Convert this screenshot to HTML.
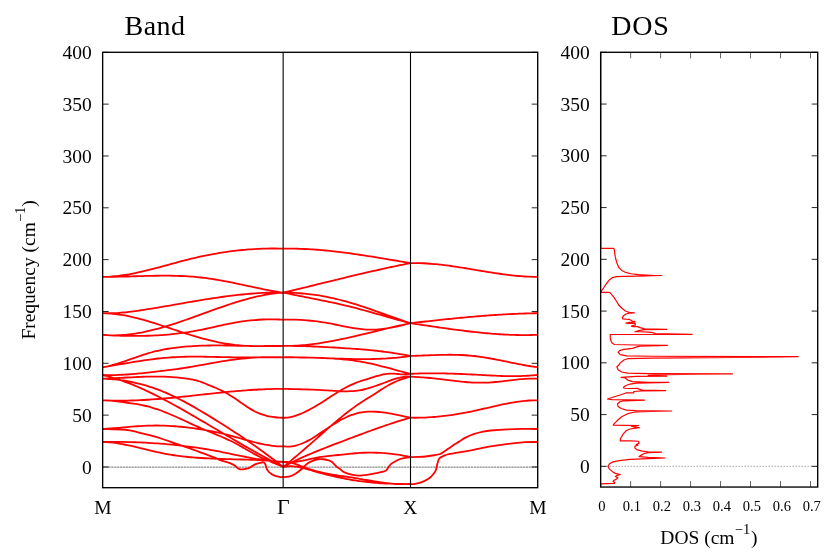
<!DOCTYPE html>
<html><head><meta charset="utf-8"><title>Band / DOS</title>
<style>
html,body{margin:0;padding:0;background:#fff;}
svg{display:block;font-family:"Liberation Serif",serif;fill:#000;}
text{filter:grayscale(1);}
</style></head>
<body>
<svg width="830" height="554" viewBox="0 0 830 554">
<rect width="830" height="554" fill="#fff"/>
<!-- zero lines -->
<path d="M102.65 467.15H537.7" stroke="#cdcdcd" stroke-width="0.85" fill="none"/>
<path d="M102.65 467.15H537.7" stroke="#6e6e6e" stroke-width="0.85" stroke-dasharray="2 0.9" fill="none"/>
<path d="M600.65 466.35H817.7" stroke="#707070" stroke-width="0.9" stroke-dasharray="1 2" fill="none"/>
<!-- bands -->
<path d="M102.65 276.90C103.33 276.88 105.38 276.86 106.75 276.80C108.12 276.75 109.49 276.67 110.85 276.58C112.22 276.48 113.59 276.36 114.96 276.23C116.32 276.10 117.69 275.94 119.06 275.78C120.43 275.61 121.79 275.42 123.16 275.22C124.53 275.02 125.90 274.80 127.26 274.57C128.63 274.34 130.00 274.09 131.37 273.83C132.73 273.57 134.10 273.30 135.47 273.02C136.84 272.74 138.20 272.44 139.57 272.14C140.94 271.83 142.31 271.52 143.67 271.20C145.04 270.87 146.41 270.54 147.78 270.20C149.14 269.87 150.51 269.52 151.88 269.17C153.24 268.82 154.61 268.46 155.98 268.10C157.35 267.74 158.71 267.38 160.08 267.01C161.45 266.64 162.82 266.27 164.18 265.90C165.55 265.52 166.92 265.15 168.29 264.78C169.65 264.40 171.02 264.03 172.39 263.66C173.76 263.28 175.12 262.91 176.49 262.54C177.86 262.18 179.23 261.81 180.59 261.45C181.96 261.09 183.33 260.73 184.70 260.38C186.06 260.03 187.43 259.68 188.80 259.34C190.17 259.00 191.53 258.67 192.90 258.35C194.27 258.02 195.63 257.71 197.00 257.40C198.37 257.09 199.74 256.78 201.10 256.49C202.47 256.19 203.84 255.91 205.21 255.63C206.57 255.35 207.94 255.08 209.31 254.81C210.68 254.55 212.04 254.29 213.41 254.04C214.78 253.79 216.15 253.55 217.51 253.32C218.88 253.09 220.25 252.86 221.62 252.65C222.98 252.43 224.35 252.22 225.72 252.02C227.09 251.82 228.45 251.63 229.82 251.44C231.19 251.26 232.56 251.08 233.92 250.91C235.29 250.75 236.66 250.59 238.02 250.44C239.39 250.29 240.76 250.14 242.13 250.01C243.49 249.88 244.86 249.75 246.23 249.64C247.60 249.52 248.96 249.41 250.33 249.31C251.70 249.22 253.07 249.13 254.43 249.05C255.80 248.96 257.17 248.89 258.54 248.83C259.90 248.77 261.27 248.71 262.64 248.67C264.01 248.62 265.37 248.59 266.74 248.56C268.11 248.54 269.48 248.52 270.84 248.51C272.21 248.50 273.58 248.51 274.95 248.52C276.31 248.53 277.68 248.55 279.05 248.58C280.42 248.61 282.47 248.68 283.15 248.70M102.65 276.90C103.33 276.90 105.38 276.90 106.75 276.89C108.12 276.88 109.49 276.87 110.85 276.85C112.22 276.83 113.59 276.81 114.96 276.79C116.32 276.76 117.69 276.74 119.06 276.71C120.43 276.68 121.79 276.64 123.16 276.61C124.53 276.57 125.90 276.53 127.26 276.50C128.63 276.46 130.00 276.42 131.37 276.38C132.73 276.34 134.10 276.30 135.47 276.26C136.84 276.22 138.20 276.18 139.57 276.14C140.94 276.10 142.31 276.06 143.67 276.03C145.04 275.99 146.41 275.96 147.78 275.92C149.14 275.89 150.51 275.86 151.88 275.84C153.24 275.81 154.61 275.79 155.98 275.77C157.35 275.75 158.71 275.73 160.08 275.72C161.45 275.71 162.82 275.70 164.18 275.70C165.55 275.70 166.92 275.71 168.29 275.72C169.65 275.73 171.02 275.74 172.39 275.77C173.76 275.79 175.12 275.82 176.49 275.86C177.86 275.89 179.23 275.94 180.59 275.99C181.96 276.04 183.33 276.10 184.70 276.17C186.06 276.24 187.43 276.32 188.80 276.41C190.17 276.50 191.53 276.60 192.90 276.71C194.27 276.82 195.63 276.93 197.00 277.06C198.37 277.19 199.74 277.34 201.10 277.49C202.47 277.64 203.84 277.81 205.21 277.98C206.57 278.16 207.94 278.35 209.31 278.55C210.68 278.74 212.04 278.95 213.41 279.17C214.78 279.39 216.15 279.62 217.51 279.85C218.88 280.08 220.25 280.33 221.62 280.58C222.98 280.83 224.35 281.09 225.72 281.35C227.09 281.61 228.45 281.88 229.82 282.15C231.19 282.43 232.56 282.71 233.92 282.99C235.29 283.27 236.66 283.56 238.02 283.85C239.39 284.14 240.76 284.43 242.13 284.72C243.49 285.01 244.86 285.31 246.23 285.61C247.60 285.90 248.96 286.20 250.33 286.49C251.70 286.79 253.07 287.08 254.43 287.37C255.80 287.67 257.17 287.96 258.54 288.24C259.90 288.53 261.27 288.82 262.64 289.09C264.01 289.37 265.37 289.64 266.74 289.91C268.11 290.17 269.48 290.43 270.84 290.68C272.21 290.92 273.58 291.16 274.95 291.39C276.31 291.61 277.68 291.83 279.05 292.03C280.42 292.24 282.47 292.51 283.15 292.60M102.65 313.20C103.33 313.21 105.38 313.26 106.75 313.27C108.12 313.27 109.49 313.25 110.85 313.22C112.22 313.18 113.59 313.13 114.96 313.07C116.32 313.00 117.69 312.92 119.06 312.82C120.43 312.72 121.79 312.61 123.16 312.49C124.53 312.36 125.90 312.23 127.26 312.08C128.63 311.93 130.00 311.77 131.37 311.61C132.73 311.44 134.10 311.26 135.47 311.07C136.84 310.89 138.20 310.69 139.57 310.49C140.94 310.29 142.31 310.09 143.67 309.87C145.04 309.66 146.41 309.45 147.78 309.23C149.14 309.01 150.51 308.78 151.88 308.56C153.24 308.33 154.61 308.10 155.98 307.87C157.35 307.64 158.71 307.41 160.08 307.18C161.45 306.95 162.82 306.71 164.18 306.48C165.55 306.24 166.92 306.00 168.29 305.77C169.65 305.53 171.02 305.29 172.39 305.05C173.76 304.81 175.12 304.58 176.49 304.34C177.86 304.10 179.23 303.86 180.59 303.62C181.96 303.38 183.33 303.15 184.70 302.91C186.06 302.67 187.43 302.44 188.80 302.20C190.17 301.97 191.53 301.73 192.90 301.50C194.27 301.27 195.63 301.04 197.00 300.81C198.37 300.58 199.74 300.36 201.10 300.13C202.47 299.91 203.84 299.69 205.21 299.47C206.57 299.25 207.94 299.04 209.31 298.82C210.68 298.61 212.04 298.40 213.41 298.19C214.78 297.99 216.15 297.78 217.51 297.59C218.88 297.39 220.25 297.19 221.62 297.00C222.98 296.81 224.35 296.62 225.72 296.44C227.09 296.26 228.45 296.08 229.82 295.91C231.19 295.74 232.56 295.57 233.92 295.41C235.29 295.25 236.66 295.09 238.02 294.94C239.39 294.79 240.76 294.65 242.13 294.51C243.49 294.37 244.86 294.24 246.23 294.11C247.60 293.99 248.96 293.87 250.33 293.76C251.70 293.65 253.07 293.54 254.43 293.44C255.80 293.35 257.17 293.26 258.54 293.17C259.90 293.09 261.27 293.01 262.64 292.95C264.01 292.88 265.37 292.82 266.74 292.77C268.11 292.72 269.48 292.68 270.84 292.65C272.21 292.61 273.58 292.59 274.95 292.58C276.31 292.56 277.68 292.55 279.05 292.56C280.42 292.56 282.47 292.59 283.15 292.60M102.65 313.20C103.33 313.22 105.38 313.25 106.75 313.32C108.12 313.38 109.49 313.47 110.85 313.58C112.22 313.70 113.59 313.83 114.96 313.99C116.32 314.15 117.69 314.33 119.06 314.53C120.43 314.73 121.79 314.95 123.16 315.19C124.53 315.43 125.90 315.69 127.26 315.96C128.63 316.24 130.00 316.53 131.37 316.83C132.73 317.14 134.10 317.47 135.47 317.80C136.84 318.14 138.20 318.49 139.57 318.85C140.94 319.21 142.31 319.59 143.67 319.98C145.04 320.36 146.41 320.76 147.78 321.16C149.14 321.57 150.51 321.98 151.88 322.40C153.24 322.83 154.61 323.26 155.98 323.69C157.35 324.12 158.71 324.57 160.08 325.01C161.45 325.46 162.82 325.91 164.18 326.36C165.55 326.81 166.92 327.26 168.29 327.72C169.65 328.17 171.02 328.63 172.39 329.09C173.76 329.54 175.12 330.00 176.49 330.45C177.86 330.91 179.23 331.36 180.59 331.81C181.96 332.25 183.33 332.70 184.70 333.13C186.06 333.57 187.43 334.01 188.80 334.43C190.17 334.86 191.53 335.28 192.90 335.69C194.27 336.10 195.63 336.50 197.00 336.90C198.37 337.29 199.74 337.68 201.10 338.05C202.47 338.43 203.84 338.79 205.21 339.15C206.57 339.50 207.94 339.85 209.31 340.18C210.68 340.52 212.04 340.84 213.41 341.15C214.78 341.46 216.15 341.76 217.51 342.04C218.88 342.33 220.25 342.60 221.62 342.85C222.98 343.11 224.35 343.36 225.72 343.58C227.09 343.81 228.45 344.03 229.82 344.22C231.19 344.42 232.56 344.60 233.92 344.77C235.29 344.94 236.66 345.08 238.02 345.22C239.39 345.35 240.76 345.46 242.13 345.56C243.49 345.65 244.86 345.73 246.23 345.80C247.60 345.86 248.96 345.91 250.33 345.95C251.70 345.99 253.07 346.01 254.43 346.03C255.80 346.05 257.17 346.06 258.54 346.06C259.90 346.06 261.27 346.05 262.64 346.04C264.01 346.03 265.37 346.02 266.74 346.00C268.11 345.99 269.48 345.97 270.84 345.95C272.21 345.94 273.58 345.92 274.95 345.91C276.31 345.90 277.68 345.89 279.05 345.89C280.42 345.88 282.47 345.90 283.15 345.90M102.65 334.80C103.33 334.85 105.38 335.04 106.75 335.12C108.12 335.20 109.49 335.25 110.85 335.29C112.22 335.32 113.59 335.33 114.96 335.31C116.32 335.30 117.69 335.26 119.06 335.20C120.43 335.15 121.79 335.07 123.16 334.97C124.53 334.87 125.90 334.75 127.26 334.61C128.63 334.47 130.00 334.31 131.37 334.13C132.73 333.95 134.10 333.76 135.47 333.54C136.84 333.33 138.20 333.10 139.57 332.85C140.94 332.61 142.31 332.34 143.67 332.06C145.04 331.79 146.41 331.49 147.78 331.19C149.14 330.88 150.51 330.56 151.88 330.22C153.24 329.89 154.61 329.54 155.98 329.18C157.35 328.82 158.71 328.45 160.08 328.07C161.45 327.68 162.82 327.29 164.18 326.89C165.55 326.48 166.92 326.07 168.29 325.65C169.65 325.23 171.02 324.80 172.39 324.36C173.76 323.92 175.12 323.47 176.49 323.02C177.86 322.57 179.23 322.10 180.59 321.64C181.96 321.17 183.33 320.70 184.70 320.23C186.06 319.75 187.43 319.27 188.80 318.79C190.17 318.30 191.53 317.81 192.90 317.32C194.27 316.84 195.63 316.34 197.00 315.85C198.37 315.35 199.74 314.86 201.10 314.36C202.47 313.87 203.84 313.37 205.21 312.88C206.57 312.38 207.94 311.88 209.31 311.39C210.68 310.90 212.04 310.41 213.41 309.92C214.78 309.43 216.15 308.94 217.51 308.46C218.88 307.98 220.25 307.50 221.62 307.03C222.98 306.56 224.35 306.09 225.72 305.62C227.09 305.16 228.45 304.71 229.82 304.26C231.19 303.81 232.56 303.36 233.92 302.93C235.29 302.50 236.66 302.07 238.02 301.65C239.39 301.23 240.76 300.83 242.13 300.43C243.49 300.03 244.86 299.64 246.23 299.27C247.60 298.89 248.96 298.52 250.33 298.17C251.70 297.82 253.07 297.48 254.43 297.15C255.80 296.82 257.17 296.51 258.54 296.21C259.90 295.91 261.27 295.62 262.64 295.36C264.01 295.09 265.37 294.83 266.74 294.59C268.11 294.36 269.48 294.13 270.84 293.93C272.21 293.73 273.58 293.54 274.95 293.37C276.31 293.21 277.68 293.06 279.05 292.93C280.42 292.80 282.47 292.65 283.15 292.60M102.65 334.80C103.33 334.84 105.38 334.98 106.75 335.06C108.12 335.15 109.49 335.22 110.85 335.29C112.22 335.37 113.59 335.43 114.96 335.49C116.32 335.56 117.69 335.61 119.06 335.66C120.43 335.71 121.79 335.75 123.16 335.79C124.53 335.83 125.90 335.86 127.26 335.89C128.63 335.91 130.00 335.93 131.37 335.94C132.73 335.96 134.10 335.96 135.47 335.96C136.84 335.96 138.20 335.95 139.57 335.94C140.94 335.92 142.31 335.90 143.67 335.87C145.04 335.85 146.41 335.81 147.78 335.77C149.14 335.72 150.51 335.67 151.88 335.61C153.24 335.56 154.61 335.49 155.98 335.42C157.35 335.34 158.71 335.26 160.08 335.17C161.45 335.08 162.82 334.99 164.18 334.88C165.55 334.77 166.92 334.66 168.29 334.54C169.65 334.41 171.02 334.28 172.39 334.14C173.76 334.00 175.12 333.86 176.49 333.70C177.86 333.54 179.23 333.37 180.59 333.20C181.96 333.02 183.33 332.84 184.70 332.64C186.06 332.45 187.43 332.25 188.80 332.03C190.17 331.82 191.53 331.60 192.90 331.36C194.27 331.13 195.63 330.89 197.00 330.63C198.37 330.38 199.74 330.12 201.10 329.85C202.47 329.57 203.84 329.29 205.21 329.00C206.57 328.71 207.94 328.40 209.31 328.10C210.68 327.79 212.04 327.48 213.41 327.17C214.78 326.86 216.15 326.54 217.51 326.23C218.88 325.92 220.25 325.61 221.62 325.31C222.98 325.01 224.35 324.70 225.72 324.42C227.09 324.13 228.45 323.84 229.82 323.57C231.19 323.31 232.56 323.05 233.92 322.80C235.29 322.55 236.66 322.31 238.02 322.09C239.39 321.87 240.76 321.66 242.13 321.46C243.49 321.26 244.86 321.07 246.23 320.90C247.60 320.73 248.96 320.57 250.33 320.42C251.70 320.28 253.07 320.15 254.43 320.03C255.80 319.91 257.17 319.81 258.54 319.73C259.90 319.64 261.27 319.57 262.64 319.51C264.01 319.45 265.37 319.40 266.74 319.37C268.11 319.34 269.48 319.33 270.84 319.33C272.21 319.33 273.58 319.34 274.95 319.37C276.31 319.39 277.68 319.44 279.05 319.49C280.42 319.55 282.47 319.67 283.15 319.70M102.65 367.30C103.33 367.17 105.38 366.80 106.75 366.51C108.12 366.21 109.49 365.88 110.85 365.53C112.22 365.18 113.59 364.80 114.96 364.41C116.32 364.01 117.69 363.59 119.06 363.16C120.43 362.72 121.79 362.27 123.16 361.81C124.53 361.35 125.90 360.88 127.26 360.40C128.63 359.93 130.00 359.44 131.37 358.96C132.73 358.48 134.10 357.99 135.47 357.51C136.84 357.03 138.20 356.55 139.57 356.09C140.94 355.62 142.31 355.16 143.67 354.72C145.04 354.27 146.41 353.84 147.78 353.43C149.14 353.02 150.51 352.62 151.88 352.25C153.24 351.88 154.61 351.54 155.98 351.21C157.35 350.88 158.71 350.57 160.08 350.28C161.45 349.99 162.82 349.72 164.18 349.46C165.55 349.20 166.92 348.96 168.29 348.74C169.65 348.51 171.02 348.30 172.39 348.10C173.76 347.91 175.12 347.72 176.49 347.55C177.86 347.38 179.23 347.22 180.59 347.08C181.96 346.93 183.33 346.80 184.70 346.67C186.06 346.55 187.43 346.44 188.80 346.34C190.17 346.23 191.53 346.14 192.90 346.06C194.27 345.98 195.63 345.90 197.00 345.84C198.37 345.78 199.74 345.72 201.10 345.67C202.47 345.63 203.84 345.59 205.21 345.55C206.57 345.52 207.94 345.50 209.31 345.48C210.68 345.46 212.04 345.44 213.41 345.44C214.78 345.43 216.15 345.43 217.51 345.43C218.88 345.43 220.25 345.44 221.62 345.45C222.98 345.46 224.35 345.48 225.72 345.50C227.09 345.52 228.45 345.54 229.82 345.56C231.19 345.58 232.56 345.61 233.92 345.64C235.29 345.67 236.66 345.70 238.02 345.73C239.39 345.75 240.76 345.79 242.13 345.82C243.49 345.85 244.86 345.88 246.23 345.91C247.60 345.94 248.96 345.96 250.33 345.99C251.70 346.02 253.07 346.04 254.43 346.07C255.80 346.09 257.17 346.11 258.54 346.13C259.90 346.14 261.27 346.16 262.64 346.17C264.01 346.17 265.37 346.18 266.74 346.18C268.11 346.18 269.48 346.18 270.84 346.17C272.21 346.16 273.58 346.14 274.95 346.12C276.31 346.10 277.68 346.07 279.05 346.03C280.42 345.99 282.47 345.92 283.15 345.90M102.65 367.30C103.33 367.18 105.38 366.84 106.75 366.61C108.12 366.37 109.49 366.14 110.85 365.90C112.22 365.66 113.59 365.42 114.96 365.19C116.32 364.95 117.69 364.71 119.06 364.47C120.43 364.23 121.79 363.99 123.16 363.76C124.53 363.52 125.90 363.28 127.26 363.05C128.63 362.82 130.00 362.59 131.37 362.36C132.73 362.13 134.10 361.91 135.47 361.69C136.84 361.47 138.20 361.25 139.57 361.04C140.94 360.82 142.31 360.61 143.67 360.41C145.04 360.21 146.41 360.01 147.78 359.82C149.14 359.63 150.51 359.45 151.88 359.27C153.24 359.10 154.61 358.93 155.98 358.76C157.35 358.60 158.71 358.45 160.08 358.30C161.45 358.16 162.82 358.02 164.18 357.90C165.55 357.77 166.92 357.66 168.29 357.55C169.65 357.45 171.02 357.35 172.39 357.27C173.76 357.18 175.12 357.11 176.49 357.04C177.86 356.98 179.23 356.93 180.59 356.88C181.96 356.83 183.33 356.80 184.70 356.76C186.06 356.73 187.43 356.71 188.80 356.70C190.17 356.68 191.53 356.67 192.90 356.67C194.27 356.66 195.63 356.66 197.00 356.67C198.37 356.68 199.74 356.69 201.10 356.70C202.47 356.72 203.84 356.73 205.21 356.76C206.57 356.78 207.94 356.80 209.31 356.83C210.68 356.85 212.04 356.88 213.41 356.91C214.78 356.94 216.15 356.97 217.51 357.00C218.88 357.03 220.25 357.06 221.62 357.08C222.98 357.11 224.35 357.14 225.72 357.17C227.09 357.19 228.45 357.21 229.82 357.24C231.19 357.26 232.56 357.27 233.92 357.29C235.29 357.31 236.66 357.32 238.02 357.33C239.39 357.35 240.76 357.36 242.13 357.36C243.49 357.37 244.86 357.38 246.23 357.39C247.60 357.39 248.96 357.39 250.33 357.40C251.70 357.40 253.07 357.40 254.43 357.40C255.80 357.40 257.17 357.40 258.54 357.40C259.90 357.39 261.27 357.39 262.64 357.39C264.01 357.38 265.37 357.38 266.74 357.37C268.11 357.37 269.48 357.36 270.84 357.36C272.21 357.35 273.58 357.34 274.95 357.34C276.31 357.33 277.68 357.32 279.05 357.32C280.42 357.31 282.47 357.30 283.15 357.30M102.65 375.00C103.33 375.02 105.38 375.08 106.75 375.10C108.12 375.12 109.49 375.12 110.85 375.11C112.22 375.11 113.59 375.09 114.96 375.05C116.32 375.02 117.69 374.98 119.06 374.93C120.43 374.87 121.79 374.81 123.16 374.73C124.53 374.66 125.90 374.58 127.26 374.49C128.63 374.40 130.00 374.30 131.37 374.19C132.73 374.08 134.10 373.97 135.47 373.85C136.84 373.73 138.20 373.60 139.57 373.47C140.94 373.34 142.31 373.20 143.67 373.06C145.04 372.92 146.41 372.77 147.78 372.62C149.14 372.47 150.51 372.32 151.88 372.17C153.24 372.01 154.61 371.86 155.98 371.70C157.35 371.54 158.71 371.37 160.08 371.21C161.45 371.04 162.82 370.88 164.18 370.71C165.55 370.54 166.92 370.36 168.29 370.19C169.65 370.01 171.02 369.83 172.39 369.65C173.76 369.46 175.12 369.28 176.49 369.09C177.86 368.90 179.23 368.70 180.59 368.50C181.96 368.30 183.33 368.10 184.70 367.89C186.06 367.68 187.43 367.46 188.80 367.24C190.17 367.01 191.53 366.77 192.90 366.53C194.27 366.29 195.63 366.04 197.00 365.79C198.37 365.54 199.74 365.28 201.10 365.03C202.47 364.77 203.84 364.51 205.21 364.26C206.57 364.00 207.94 363.75 209.31 363.50C210.68 363.25 212.04 363.01 213.41 362.77C214.78 362.54 216.15 362.31 217.51 362.08C218.88 361.85 220.25 361.63 221.62 361.42C222.98 361.20 224.35 361.00 225.72 360.80C227.09 360.59 228.45 360.40 229.82 360.21C231.19 360.02 232.56 359.84 233.92 359.67C235.29 359.50 236.66 359.33 238.02 359.17C239.39 359.01 240.76 358.86 242.13 358.72C243.49 358.58 244.86 358.45 246.23 358.32C247.60 358.19 248.96 358.08 250.33 357.97C251.70 357.86 253.07 357.76 254.43 357.67C255.80 357.58 257.17 357.50 258.54 357.43C259.90 357.36 261.27 357.30 262.64 357.25C264.01 357.20 265.37 357.16 266.74 357.13C268.11 357.10 269.48 357.08 270.84 357.07C272.21 357.06 273.58 357.06 274.95 357.08C276.31 357.09 277.68 357.12 279.05 357.15C280.42 357.19 282.47 357.28 283.15 357.30M102.65 378.60C103.33 378.58 105.38 378.53 106.75 378.48C108.12 378.43 109.49 378.38 110.85 378.33C112.22 378.27 113.59 378.21 114.96 378.15C116.32 378.08 117.69 378.01 119.06 377.95C120.43 377.88 121.79 377.81 123.16 377.74C124.53 377.66 125.90 377.59 127.26 377.52C128.63 377.45 130.00 377.38 131.37 377.31C132.73 377.24 134.10 377.17 135.47 377.11C136.84 377.05 138.20 376.98 139.57 376.93C140.94 376.87 142.31 376.82 143.67 376.77C145.04 376.73 146.41 376.69 147.78 376.65C149.14 376.62 150.51 376.59 151.88 376.57C153.24 376.55 154.61 376.54 155.98 376.54C157.35 376.54 158.71 376.55 160.08 376.57C161.45 376.58 162.82 376.61 164.18 376.65C165.55 376.70 166.92 376.75 168.29 376.81C169.65 376.88 171.02 376.96 172.39 377.05C173.76 377.15 175.12 377.25 176.49 377.38C177.86 377.50 179.23 377.64 180.59 377.80C181.96 377.96 183.33 378.13 184.70 378.32C186.06 378.51 187.43 378.72 188.80 378.95C190.17 379.18 191.53 379.42 192.90 379.71C194.27 380.00 195.63 380.30 197.00 380.67C198.37 381.04 199.74 381.44 201.10 381.91C202.47 382.37 203.84 382.92 205.21 383.48C206.57 384.03 207.94 384.65 209.31 385.23C210.68 385.81 212.04 386.37 213.41 386.95C214.78 387.53 216.15 388.10 217.51 388.71C218.88 389.32 220.25 389.94 221.62 390.62C222.98 391.30 224.35 392.03 225.72 392.79C227.09 393.56 228.45 394.37 229.82 395.20C231.19 396.04 232.56 396.91 233.92 397.80C235.29 398.69 236.66 399.61 238.02 400.54C239.39 401.47 240.76 402.44 242.13 403.38C243.49 404.33 244.86 405.30 246.23 406.22C247.60 407.13 248.96 408.05 250.33 408.89C251.70 409.72 253.07 410.51 254.43 411.22C255.80 411.93 257.17 412.56 258.54 413.13C259.90 413.70 261.27 414.20 262.64 414.64C264.01 415.09 265.37 415.47 266.74 415.80C268.11 416.14 269.48 416.41 270.84 416.65C272.21 416.89 273.58 417.08 274.95 417.24C276.31 417.40 277.68 417.52 279.05 417.61C280.42 417.70 282.47 417.77 283.15 417.80M102.65 400.30C103.33 400.33 105.38 400.43 106.75 400.48C108.12 400.53 109.49 400.57 110.85 400.60C112.22 400.64 113.59 400.66 114.96 400.68C116.32 400.70 117.69 400.70 119.06 400.70C120.43 400.71 121.79 400.70 123.16 400.69C124.53 400.67 125.90 400.65 127.26 400.62C128.63 400.60 130.00 400.56 131.37 400.52C132.73 400.48 134.10 400.43 135.47 400.38C136.84 400.32 138.20 400.26 139.57 400.20C140.94 400.13 142.31 400.06 143.67 399.98C145.04 399.91 146.41 399.83 147.78 399.74C149.14 399.65 150.51 399.56 151.88 399.46C153.24 399.37 154.61 399.27 155.98 399.16C157.35 399.06 158.71 398.95 160.08 398.83C161.45 398.72 162.82 398.60 164.18 398.48C165.55 398.36 166.92 398.24 168.29 398.11C169.65 397.99 171.02 397.86 172.39 397.73C173.76 397.59 175.12 397.46 176.49 397.32C177.86 397.19 179.23 397.05 180.59 396.90C181.96 396.76 183.33 396.62 184.70 396.48C186.06 396.33 187.43 396.19 188.80 396.04C190.17 395.89 191.53 395.74 192.90 395.60C194.27 395.45 195.63 395.30 197.00 395.15C198.37 395.00 199.74 394.85 201.10 394.70C202.47 394.55 203.84 394.40 205.21 394.25C206.57 394.10 207.94 393.95 209.31 393.80C210.68 393.66 212.04 393.51 213.41 393.36C214.78 393.22 216.15 393.07 217.51 392.93C218.88 392.79 220.25 392.64 221.62 392.51C222.98 392.37 224.35 392.23 225.72 392.09C227.09 391.96 228.45 391.83 229.82 391.70C231.19 391.57 232.56 391.44 233.92 391.32C235.29 391.19 236.66 391.07 238.02 390.96C239.39 390.84 240.76 390.72 242.13 390.62C243.49 390.51 244.86 390.40 246.23 390.30C247.60 390.20 248.96 390.10 250.33 390.01C251.70 389.92 253.07 389.83 254.43 389.75C255.80 389.66 257.17 389.59 258.54 389.52C259.90 389.44 261.27 389.38 262.64 389.32C264.01 389.26 265.37 389.20 266.74 389.15C268.11 389.11 269.48 389.06 270.84 389.03C272.21 388.99 273.58 388.96 274.95 388.94C276.31 388.92 277.68 388.91 279.05 388.90C280.42 388.89 282.47 388.90 283.15 388.90M102.65 400.30C103.33 400.32 105.38 400.36 106.75 400.43C108.12 400.49 109.49 400.59 110.85 400.71C112.22 400.82 113.59 400.97 114.96 401.12C116.32 401.27 117.69 401.44 119.06 401.61C120.43 401.79 121.79 401.98 123.16 402.16C124.53 402.35 125.90 402.54 127.26 402.74C128.63 402.93 130.00 403.13 131.37 403.33C132.73 403.53 134.10 403.74 135.47 403.97C136.84 404.19 138.20 404.43 139.57 404.68C140.94 404.94 142.31 405.20 143.67 405.50C145.04 405.79 146.41 406.10 147.78 406.45C149.14 406.79 150.51 407.16 151.88 407.56C153.24 407.96 154.61 408.38 155.98 408.84C157.35 409.29 158.71 409.77 160.08 410.26C161.45 410.76 162.82 411.28 164.18 411.82C165.55 412.35 166.92 412.91 168.29 413.48C169.65 414.05 171.02 414.64 172.39 415.23C173.76 415.82 175.12 416.43 176.49 417.05C177.86 417.66 179.23 418.29 180.59 418.91C181.96 419.54 183.33 420.17 184.70 420.80C186.06 421.44 187.43 422.07 188.80 422.70C190.17 423.33 191.53 423.97 192.90 424.59C194.27 425.21 195.63 425.83 197.00 426.44C198.37 427.05 199.74 427.65 201.10 428.24C202.47 428.83 203.84 429.40 205.21 429.97C206.57 430.54 207.94 431.10 209.31 431.67C210.68 432.23 212.04 432.79 213.41 433.35C214.78 433.91 216.15 434.47 217.51 435.05C218.88 435.62 220.25 436.20 221.62 436.79C222.98 437.39 224.35 437.99 225.72 438.61C227.09 439.23 228.45 439.87 229.82 440.53C231.19 441.19 232.56 441.86 233.92 442.57C235.29 443.28 236.66 444.02 238.02 444.77C239.39 445.53 240.76 446.32 242.13 447.10C243.49 447.89 244.86 448.69 246.23 449.48C247.60 450.27 248.96 451.07 250.33 451.83C251.70 452.60 253.07 453.36 254.43 454.08C255.80 454.81 257.17 455.52 258.54 456.20C259.90 456.88 261.27 457.54 262.64 458.19C264.01 458.83 265.37 459.44 266.74 460.04C268.11 460.64 269.48 461.22 270.84 461.79C272.21 462.37 273.58 462.92 274.95 463.49C276.31 464.06 277.68 464.62 279.05 465.20C280.42 465.77 282.47 466.67 283.15 466.97M102.65 378.60C103.33 378.63 105.38 378.71 106.75 378.79C108.12 378.87 109.49 378.97 110.85 379.08C112.22 379.19 113.59 379.31 114.96 379.46C116.32 379.60 117.69 379.76 119.06 379.94C120.43 380.11 121.79 380.31 123.16 380.51C124.53 380.72 125.90 380.95 127.26 381.19C128.63 381.44 130.00 381.70 131.37 381.97C132.73 382.25 134.10 382.55 135.47 382.86C136.84 383.17 138.20 383.50 139.57 383.85C140.94 384.20 142.31 384.56 143.67 384.95C145.04 385.33 146.41 385.73 147.78 386.15C149.14 386.57 150.51 387.01 151.88 387.47C153.24 387.92 154.61 388.40 155.98 388.89C157.35 389.39 158.71 389.90 160.08 390.43C161.45 390.97 162.82 391.52 164.18 392.09C165.55 392.66 166.92 393.25 168.29 393.86C169.65 394.46 171.02 395.09 172.39 395.73C173.76 396.37 175.12 397.03 176.49 397.70C177.86 398.37 179.23 399.06 180.59 399.76C181.96 400.46 183.33 401.18 184.70 401.90C186.06 402.63 187.43 403.37 188.80 404.13C190.17 404.88 191.53 405.64 192.90 406.41C194.27 407.19 195.63 407.97 197.00 408.77C198.37 409.56 199.74 410.36 201.10 411.17C202.47 411.98 203.84 412.80 205.21 413.62C206.57 414.44 207.94 415.28 209.31 416.11C210.68 416.95 212.04 417.79 213.41 418.63C214.78 419.48 216.15 420.33 217.51 421.18C218.88 422.04 220.25 422.89 221.62 423.76C222.98 424.62 224.35 425.49 225.72 426.36C227.09 427.24 228.45 428.11 229.82 429.00C231.19 429.88 232.56 430.77 233.92 431.67C235.29 432.56 236.66 433.46 238.02 434.37C239.39 435.28 240.76 436.19 242.13 437.11C243.49 438.03 244.86 438.95 246.23 439.89C247.60 440.82 248.96 441.76 250.33 442.71C251.70 443.65 253.07 444.61 254.43 445.57C255.80 446.53 257.17 447.50 258.54 448.48C259.90 449.45 261.27 450.44 262.64 451.43C264.01 452.42 265.37 453.42 266.74 454.43C268.11 455.44 269.48 456.46 270.84 457.48C272.21 458.51 273.58 459.55 274.95 460.59C276.31 461.63 277.68 462.69 279.05 463.75C280.42 464.81 282.47 466.43 283.15 466.97M102.65 375.00C103.33 375.17 105.38 375.65 106.75 376.00C108.12 376.36 109.49 376.73 110.85 377.12C112.22 377.51 113.59 377.91 114.96 378.34C116.32 378.76 117.69 379.20 119.06 379.66C120.43 380.11 121.79 380.59 123.16 381.07C124.53 381.56 125.90 382.07 127.26 382.58C128.63 383.10 130.00 383.63 131.37 384.18C132.73 384.73 134.10 385.29 135.47 385.86C136.84 386.44 138.20 387.02 139.57 387.62C140.94 388.22 142.31 388.83 143.67 389.46C145.04 390.08 146.41 390.72 147.78 391.36C149.14 392.01 150.51 392.66 151.88 393.33C153.24 394.00 154.61 394.67 155.98 395.36C157.35 396.05 158.71 396.74 160.08 397.45C161.45 398.15 162.82 398.87 164.18 399.59C165.55 400.31 166.92 401.04 168.29 401.77C169.65 402.51 171.02 403.25 172.39 404.00C173.76 404.75 175.12 405.51 176.49 406.27C177.86 407.03 179.23 407.80 180.59 408.57C181.96 409.34 183.33 410.12 184.70 410.90C186.06 411.68 187.43 412.47 188.80 413.26C190.17 414.05 191.53 414.84 192.90 415.63C194.27 416.43 195.63 417.23 197.00 418.03C198.37 418.83 199.74 419.63 201.10 420.43C202.47 421.23 203.84 422.04 205.21 422.84C206.57 423.65 207.94 424.45 209.31 425.26C210.68 426.06 212.04 426.87 213.41 427.68C214.78 428.48 216.15 429.29 217.51 430.10C218.88 430.90 220.25 431.71 221.62 432.51C222.98 433.32 224.35 434.12 225.72 434.93C227.09 435.73 228.45 436.53 229.82 437.33C231.19 438.13 232.56 438.93 233.92 439.73C235.29 440.53 236.66 441.33 238.02 442.12C239.39 442.91 240.76 443.70 242.13 444.49C243.49 445.28 244.86 446.07 246.23 446.85C247.60 447.63 248.96 448.41 250.33 449.19C251.70 449.96 253.07 450.74 254.43 451.51C255.80 452.27 257.17 453.04 258.54 453.80C259.90 454.56 261.27 455.32 262.64 456.07C264.01 456.82 265.37 457.57 266.74 458.31C268.11 459.06 269.48 459.80 270.84 460.53C272.21 461.26 273.58 461.99 274.95 462.71C276.31 463.43 277.68 464.15 279.05 464.86C280.42 465.57 282.47 466.61 283.15 466.97M102.65 429.00C103.33 428.96 105.38 428.85 106.75 428.76C108.12 428.67 109.49 428.57 110.85 428.47C112.22 428.37 113.59 428.25 114.96 428.14C116.32 428.03 117.69 427.91 119.06 427.79C120.43 427.67 121.79 427.55 123.16 427.43C124.53 427.31 125.90 427.19 127.26 427.07C128.63 426.95 130.00 426.83 131.37 426.72C132.73 426.60 134.10 426.49 135.47 426.39C136.84 426.29 138.20 426.19 139.57 426.10C140.94 426.01 142.31 425.93 143.67 425.86C145.04 425.78 146.41 425.72 147.78 425.67C149.14 425.62 150.51 425.58 151.88 425.56C153.24 425.53 154.61 425.52 155.98 425.52C157.35 425.52 158.71 425.54 160.08 425.56C161.45 425.59 162.82 425.62 164.18 425.67C165.55 425.72 166.92 425.78 168.29 425.85C169.65 425.92 171.02 426.01 172.39 426.10C173.76 426.19 175.12 426.29 176.49 426.40C177.86 426.51 179.23 426.64 180.59 426.77C181.96 426.90 183.33 427.04 184.70 427.18C186.06 427.33 187.43 427.49 188.80 427.65C190.17 427.82 191.53 427.99 192.90 428.17C194.27 428.35 195.63 428.54 197.00 428.74C198.37 428.94 199.74 429.14 201.10 429.36C202.47 429.57 203.84 429.80 205.21 430.03C206.57 430.27 207.94 430.51 209.31 430.77C210.68 431.02 212.04 431.29 213.41 431.56C214.78 431.84 216.15 432.12 217.51 432.42C218.88 432.72 220.25 433.03 221.62 433.35C222.98 433.68 224.35 434.01 225.72 434.36C227.09 434.70 228.45 435.07 229.82 435.43C231.19 435.80 232.56 436.18 233.92 436.56C235.29 436.95 236.66 437.34 238.02 437.73C239.39 438.11 240.76 438.51 242.13 438.90C243.49 439.28 244.86 439.67 246.23 440.06C247.60 440.44 248.96 440.82 250.33 441.18C251.70 441.55 253.07 441.91 254.43 442.25C255.80 442.60 257.17 442.93 258.54 443.25C259.90 443.56 261.27 443.86 262.64 444.14C264.01 444.42 265.37 444.68 266.74 444.92C268.11 445.15 269.48 445.37 270.84 445.56C272.21 445.74 273.58 445.90 274.95 446.03C276.31 446.16 277.68 446.26 279.05 446.32C280.42 446.38 282.47 446.39 283.15 446.40M102.65 429.00C106.42 429.13 119.41 429.22 125.28 429.77C131.16 430.32 133.71 431.35 137.93 432.29C142.14 433.24 146.35 434.30 150.57 435.46C154.78 436.61 159.00 437.88 163.21 439.25C167.43 440.62 171.51 442.20 175.85 443.67C180.19 445.14 184.78 446.51 189.25 448.08C193.71 449.66 198.30 451.48 202.64 453.12C206.98 454.76 212.12 456.66 215.28 457.93C218.45 459.19 219.15 459.84 221.61 460.71C224.06 461.58 227.88 462.37 230.00 463.14C232.12 463.90 233.13 464.52 234.34 465.31C235.54 466.09 236.27 467.18 237.23 467.84C238.19 468.50 238.92 469.07 240.12 469.28C241.33 469.50 243.02 469.32 244.46 469.14C245.91 468.96 247.59 468.66 248.80 468.20C250.00 467.74 250.73 466.99 251.69 466.39C252.66 465.79 253.38 465.13 254.58 464.58C255.79 464.04 257.72 463.48 258.92 463.14C260.13 462.80 260.97 462.68 261.81 462.56C262.66 462.44 263.38 462.08 263.98 462.42C264.59 462.75 265.07 463.80 265.43 464.58C265.79 465.37 265.79 466.15 266.15 467.11C266.51 468.08 267.12 469.53 267.60 470.37C268.08 471.21 268.32 471.51 269.05 472.18C269.77 472.84 270.73 473.68 271.94 474.35C273.14 475.01 274.83 475.70 276.28 476.15C277.72 476.61 279.47 476.92 280.61 477.09C281.76 477.27 282.73 477.18 283.15 477.20M102.65 442.00C103.33 441.99 105.38 441.96 106.75 441.94C108.12 441.93 109.49 441.92 110.85 441.91C112.22 441.90 113.59 441.90 114.96 441.90C116.32 441.90 117.69 441.91 119.06 441.92C120.43 441.93 121.79 441.94 123.16 441.96C124.53 441.98 125.90 442.00 127.26 442.03C128.63 442.06 130.00 442.09 131.37 442.13C132.73 442.16 134.10 442.20 135.47 442.25C136.84 442.30 138.20 442.35 139.57 442.40C140.94 442.46 142.31 442.52 143.67 442.58C145.04 442.65 146.41 442.72 147.78 442.79C149.14 442.86 150.51 442.94 151.88 443.03C153.24 443.11 154.61 443.20 155.98 443.30C157.35 443.39 158.71 443.49 160.08 443.59C161.45 443.70 162.82 443.81 164.18 443.92C165.55 444.04 166.92 444.16 168.29 444.28C169.65 444.41 171.02 444.54 172.39 444.67C173.76 444.81 175.12 444.95 176.49 445.10C177.86 445.24 179.23 445.40 180.59 445.55C181.96 445.71 183.33 445.87 184.70 446.04C186.06 446.21 187.43 446.39 188.80 446.57C190.17 446.75 191.53 446.93 192.90 447.12C194.27 447.31 195.63 447.51 197.00 447.71C198.37 447.92 199.74 448.13 201.10 448.34C202.47 448.56 203.84 448.78 205.21 449.00C206.57 449.23 207.94 449.46 209.31 449.70C210.68 449.94 212.04 450.18 213.41 450.43C214.78 450.69 216.15 450.94 217.51 451.21C218.88 451.47 220.25 451.74 221.62 452.01C222.98 452.28 224.35 452.56 225.72 452.84C227.09 453.11 228.45 453.40 229.82 453.68C231.19 453.96 232.56 454.24 233.92 454.52C235.29 454.81 236.66 455.09 238.02 455.37C239.39 455.65 240.76 455.93 242.13 456.20C243.49 456.48 244.86 456.75 246.23 457.02C247.60 457.28 248.96 457.55 250.33 457.80C251.70 458.06 253.07 458.31 254.43 458.55C255.80 458.79 257.17 459.03 258.54 459.25C259.90 459.48 261.27 459.69 262.64 459.90C264.01 460.10 265.37 460.30 266.74 460.48C268.11 460.66 269.48 460.83 270.84 460.99C272.21 461.15 273.58 461.29 274.95 461.42C276.31 461.55 277.68 461.66 279.05 461.76C280.42 461.86 282.47 461.96 283.15 462.00M102.65 442.00C103.33 442.02 105.38 442.07 106.75 442.15C108.12 442.23 109.49 442.34 110.85 442.47C112.22 442.60 113.59 442.76 114.96 442.94C116.32 443.11 117.69 443.32 119.06 443.54C120.43 443.75 121.79 444.00 123.16 444.25C124.53 444.50 125.90 444.77 127.26 445.06C128.63 445.34 130.00 445.64 131.37 445.94C132.73 446.25 134.10 446.56 135.47 446.88C136.84 447.21 138.20 447.54 139.57 447.87C140.94 448.20 142.31 448.54 143.67 448.87C145.04 449.21 146.41 449.55 147.78 449.88C149.14 450.21 150.51 450.55 151.88 450.87C153.24 451.20 154.61 451.52 155.98 451.83C157.35 452.14 158.71 452.45 160.08 452.74C161.45 453.03 162.82 453.31 164.18 453.58C165.55 453.84 166.92 454.09 168.29 454.33C169.65 454.57 171.02 454.80 172.39 455.01C173.76 455.23 175.12 455.43 176.49 455.62C177.86 455.81 179.23 455.99 180.59 456.16C181.96 456.33 183.33 456.48 184.70 456.63C186.06 456.78 187.43 456.92 188.80 457.05C190.17 457.18 191.53 457.30 192.90 457.42C194.27 457.53 195.63 457.64 197.00 457.74C198.37 457.84 199.74 457.93 201.10 458.01C202.47 458.10 203.84 458.18 205.21 458.25C206.57 458.33 207.94 458.40 209.31 458.46C210.68 458.53 212.04 458.59 213.41 458.64C214.78 458.70 216.15 458.75 217.51 458.80C218.88 458.85 220.25 458.89 221.62 458.94C222.98 458.98 224.35 459.02 225.72 459.06C227.09 459.10 228.45 459.14 229.82 459.18C231.19 459.22 232.56 459.26 233.92 459.29C235.29 459.33 236.66 459.37 238.02 459.41C239.39 459.44 240.76 459.48 242.13 459.52C243.49 459.56 244.86 459.61 246.23 459.65C247.60 459.70 248.96 459.74 250.33 459.79C251.70 459.84 253.07 459.90 254.43 459.95C255.80 460.01 257.17 460.07 258.54 460.14C259.90 460.20 261.27 460.27 262.64 460.35C264.01 460.43 265.37 460.51 266.74 460.60C268.11 460.68 269.48 460.78 270.84 460.88C272.21 460.98 273.58 461.09 274.95 461.20C276.31 461.32 277.68 461.44 279.05 461.58C280.42 461.71 282.47 461.93 283.15 462.00M283.15 248.70C283.86 248.69 285.98 248.65 287.39 248.64C288.81 248.64 290.22 248.64 291.64 248.65C293.06 248.66 294.47 248.68 295.88 248.71C297.30 248.74 298.71 248.77 300.13 248.82C301.55 248.86 302.96 248.92 304.38 248.98C305.79 249.04 307.20 249.12 308.62 249.19C310.04 249.27 311.45 249.36 312.87 249.45C314.28 249.55 315.69 249.65 317.11 249.76C318.53 249.87 319.94 249.98 321.36 250.10C322.77 250.23 324.18 250.35 325.60 250.49C327.01 250.62 328.43 250.77 329.84 250.91C331.26 251.06 332.67 251.21 334.09 251.37C335.50 251.53 336.92 251.69 338.33 251.86C339.75 252.03 341.16 252.21 342.58 252.39C344.00 252.56 345.41 252.75 346.82 252.94C348.24 253.13 349.65 253.32 351.07 253.51C352.49 253.71 353.90 253.91 355.31 254.12C356.73 254.32 358.14 254.53 359.56 254.74C360.98 254.95 362.39 255.17 363.81 255.38C365.22 255.60 366.63 255.82 368.05 256.04C369.47 256.27 370.88 256.49 372.30 256.72C373.71 256.95 375.12 257.18 376.54 257.41C377.95 257.64 379.37 257.87 380.78 258.11C382.20 258.34 383.61 258.58 385.03 258.81C386.44 259.05 387.86 259.29 389.27 259.53C390.69 259.76 392.10 260.00 393.52 260.24C394.94 260.48 396.35 260.72 397.76 260.96C399.18 261.20 400.59 261.44 402.01 261.68C403.43 261.92 404.84 262.15 406.25 262.39C407.67 262.63 409.79 262.98 410.50 263.10M283.15 292.60C283.86 292.43 285.98 291.94 287.39 291.61C288.81 291.27 290.22 290.94 291.64 290.60C293.06 290.27 294.47 289.93 295.88 289.59C297.30 289.26 298.71 288.92 300.13 288.58C301.55 288.24 302.96 287.90 304.38 287.55C305.79 287.21 307.20 286.87 308.62 286.53C310.04 286.18 311.45 285.84 312.87 285.50C314.28 285.15 315.69 284.81 317.11 284.46C318.53 284.12 319.94 283.77 321.36 283.43C322.77 283.08 324.18 282.73 325.60 282.39C327.01 282.04 328.43 281.70 329.84 281.35C331.26 281.01 332.67 280.66 334.09 280.32C335.50 279.97 336.92 279.63 338.33 279.29C339.75 278.94 341.16 278.60 342.58 278.26C344.00 277.92 345.41 277.57 346.82 277.23C348.24 276.89 349.65 276.55 351.07 276.21C352.49 275.88 353.90 275.54 355.31 275.20C356.73 274.87 358.14 274.53 359.56 274.20C360.98 273.86 362.39 273.53 363.81 273.20C365.22 272.87 366.63 272.54 368.05 272.22C369.47 271.89 370.88 271.56 372.30 271.24C373.71 270.92 375.12 270.59 376.54 270.27C377.95 269.96 379.37 269.64 380.78 269.32C382.20 269.01 383.61 268.70 385.03 268.38C386.44 268.07 387.86 267.77 389.27 267.46C390.69 267.16 392.10 266.85 393.52 266.55C394.94 266.25 396.35 265.96 397.76 265.66C399.18 265.37 400.59 265.08 402.01 264.79C403.43 264.50 404.84 264.22 406.25 263.93C407.67 263.65 409.79 263.24 410.50 263.10M283.15 292.60C283.86 292.60 285.98 292.60 287.39 292.63C288.81 292.65 290.22 292.69 291.64 292.75C293.06 292.80 294.47 292.87 295.88 292.95C297.30 293.03 298.71 293.13 300.13 293.24C301.55 293.35 302.96 293.47 304.38 293.61C305.79 293.75 307.20 293.90 308.62 294.07C310.04 294.24 311.45 294.42 312.87 294.61C314.28 294.80 315.69 295.01 317.11 295.23C318.53 295.45 319.94 295.68 321.36 295.93C322.77 296.18 324.18 296.43 325.60 296.71C327.01 296.98 328.43 297.26 329.84 297.56C331.26 297.86 332.67 298.17 334.09 298.49C335.50 298.82 336.92 299.15 338.33 299.50C339.75 299.84 341.16 300.20 342.58 300.58C344.00 300.95 345.41 301.33 346.82 301.73C348.24 302.12 349.65 302.53 351.07 302.94C352.49 303.36 353.90 303.79 355.31 304.23C356.73 304.66 358.14 305.11 359.56 305.56C360.98 306.01 362.39 306.47 363.81 306.94C365.22 307.41 366.63 307.89 368.05 308.36C369.47 308.84 370.88 309.33 372.30 309.82C373.71 310.31 375.12 310.80 376.54 311.30C377.95 311.80 379.37 312.30 380.78 312.80C382.20 313.30 383.61 313.81 385.03 314.31C386.44 314.81 387.86 315.32 389.27 315.82C390.69 316.33 392.10 316.83 393.52 317.34C394.94 317.84 396.35 318.34 397.76 318.84C399.18 319.33 400.59 319.83 402.01 320.32C403.43 320.81 404.84 321.29 406.25 321.78C407.67 322.26 409.79 322.96 410.50 323.20M283.15 292.60C283.86 292.75 285.98 293.20 287.39 293.49C288.81 293.79 290.22 294.08 291.64 294.37C293.06 294.66 294.47 294.94 295.88 295.23C297.30 295.51 298.71 295.79 300.13 296.07C301.55 296.35 302.96 296.63 304.38 296.91C305.79 297.19 307.20 297.46 308.62 297.74C310.04 298.02 311.45 298.30 312.87 298.58C314.28 298.86 315.69 299.14 317.11 299.42C318.53 299.70 319.94 299.99 321.36 300.27C322.77 300.56 324.18 300.85 325.60 301.14C327.01 301.43 328.43 301.73 329.84 302.03C331.26 302.33 332.67 302.63 334.09 302.94C335.50 303.25 336.92 303.56 338.33 303.88C339.75 304.20 341.16 304.52 342.58 304.85C344.00 305.18 345.41 305.52 346.82 305.86C348.24 306.20 349.65 306.55 351.07 306.91C352.49 307.26 353.90 307.63 355.31 307.99C356.73 308.36 358.14 308.73 359.56 309.11C360.98 309.48 362.39 309.86 363.81 310.25C365.22 310.63 366.63 311.02 368.05 311.41C369.47 311.80 370.88 312.19 372.30 312.59C373.71 312.98 375.12 313.38 376.54 313.78C377.95 314.18 379.37 314.58 380.78 314.98C382.20 315.38 383.61 315.78 385.03 316.18C386.44 316.58 387.86 316.98 389.27 317.38C390.69 317.78 392.10 318.18 393.52 318.57C394.94 318.97 396.35 319.37 397.76 319.76C399.18 320.15 400.59 320.54 402.01 320.93C403.43 321.31 404.84 321.70 406.25 322.08C407.67 322.45 409.79 323.01 410.50 323.20M283.15 319.70C283.86 319.68 285.98 319.62 287.39 319.60C288.81 319.59 290.22 319.59 291.64 319.60C293.06 319.62 294.47 319.65 295.88 319.69C297.30 319.73 298.71 319.79 300.13 319.87C301.55 319.94 302.96 320.03 304.38 320.13C305.79 320.23 307.20 320.35 308.62 320.48C310.04 320.61 311.45 320.76 312.87 320.92C314.28 321.08 315.69 321.25 317.11 321.43C318.53 321.62 319.94 321.82 321.36 322.03C322.77 322.25 324.18 322.47 325.60 322.71C327.01 322.95 328.43 323.20 329.84 323.47C331.26 323.73 332.67 324.01 334.09 324.29C335.50 324.57 336.92 324.86 338.33 325.15C339.75 325.44 341.16 325.73 342.58 326.02C344.00 326.30 345.41 326.59 346.82 326.86C348.24 327.13 349.65 327.40 351.07 327.65C352.49 327.90 353.90 328.14 355.31 328.35C356.73 328.57 358.14 328.77 359.56 328.94C360.98 329.11 362.39 329.27 363.81 329.38C365.22 329.50 366.63 329.60 368.05 329.65C369.47 329.70 370.88 329.72 372.30 329.71C373.71 329.69 375.12 329.63 376.54 329.54C377.95 329.46 379.37 329.33 380.78 329.18C382.20 329.03 383.61 328.85 385.03 328.65C386.44 328.45 387.86 328.21 389.27 327.97C390.69 327.72 392.10 327.45 393.52 327.16C394.94 326.88 396.35 326.57 397.76 326.26C399.18 325.94 400.59 325.61 402.01 325.28C403.43 324.94 404.84 324.60 406.25 324.25C407.67 323.90 409.79 323.38 410.50 323.20M283.15 345.90C283.86 345.90 285.98 345.92 287.39 345.91C288.81 345.90 290.22 345.87 291.64 345.82C293.06 345.78 294.47 345.72 295.88 345.64C297.30 345.57 298.71 345.48 300.13 345.38C301.55 345.27 302.96 345.16 304.38 345.03C305.79 344.90 307.20 344.76 308.62 344.60C310.04 344.45 311.45 344.28 312.87 344.10C314.28 343.93 315.69 343.74 317.11 343.54C318.53 343.34 319.94 343.13 321.36 342.91C322.77 342.69 324.18 342.46 325.60 342.22C327.01 341.98 328.43 341.73 329.84 341.48C331.26 341.22 332.67 340.95 334.09 340.68C335.50 340.41 336.92 340.13 338.33 339.84C339.75 339.56 341.16 339.26 342.58 338.97C344.00 338.67 345.41 338.36 346.82 338.05C348.24 337.74 349.65 337.43 351.07 337.11C352.49 336.79 353.90 336.46 355.31 336.13C356.73 335.81 358.14 335.47 359.56 335.14C360.98 334.81 362.39 334.47 363.81 334.13C365.22 333.79 366.63 333.45 368.05 333.11C369.47 332.76 370.88 332.42 372.30 332.07C373.71 331.73 375.12 331.38 376.54 331.04C377.95 330.69 379.37 330.35 380.78 330.01C382.20 329.66 383.61 329.32 385.03 328.98C386.44 328.64 387.86 328.30 389.27 327.96C390.69 327.63 392.10 327.29 393.52 326.96C394.94 326.63 396.35 326.30 397.76 325.98C399.18 325.66 400.59 325.34 402.01 325.02C403.43 324.71 404.84 324.40 406.25 324.09C407.67 323.79 409.79 323.35 410.50 323.20M283.15 345.90C283.86 345.90 285.98 345.90 287.39 345.90C288.81 345.91 290.22 345.92 291.64 345.94C293.06 345.95 294.47 345.97 295.88 346.00C297.30 346.02 298.71 346.05 300.13 346.08C301.55 346.12 302.96 346.15 304.38 346.19C305.79 346.23 307.20 346.28 308.62 346.33C310.04 346.38 311.45 346.43 312.87 346.48C314.28 346.54 315.69 346.60 317.11 346.66C318.53 346.72 319.94 346.78 321.36 346.85C322.77 346.92 324.18 346.99 325.60 347.06C327.01 347.13 328.43 347.21 329.84 347.28C331.26 347.36 332.67 347.44 334.09 347.52C335.50 347.60 336.92 347.68 338.33 347.77C339.75 347.85 341.16 347.94 342.58 348.03C344.00 348.11 345.41 348.20 346.82 348.29C348.24 348.38 349.65 348.48 351.07 348.57C352.49 348.66 353.90 348.76 355.31 348.86C356.73 348.96 358.14 349.07 359.56 349.18C360.98 349.28 362.39 349.40 363.81 349.52C365.22 349.63 366.63 349.76 368.05 349.89C369.47 350.02 370.88 350.15 372.30 350.30C373.71 350.44 375.12 350.59 376.54 350.75C377.95 350.91 379.37 351.08 380.78 351.26C382.20 351.43 383.61 351.62 385.03 351.81C386.44 352.00 387.86 352.20 389.27 352.40C390.69 352.61 392.10 352.82 393.52 353.04C394.94 353.26 396.35 353.48 397.76 353.71C399.18 353.94 400.59 354.17 402.01 354.41C403.43 354.65 404.84 354.90 406.25 355.14C407.67 355.39 409.79 355.77 410.50 355.90M283.15 357.30C283.86 357.29 285.98 357.27 287.39 357.26C288.81 357.26 290.22 357.26 291.64 357.26C293.06 357.27 294.47 357.28 295.88 357.30C297.30 357.32 298.71 357.34 300.13 357.37C301.55 357.39 302.96 357.42 304.38 357.46C305.79 357.49 307.20 357.53 308.62 357.57C310.04 357.61 311.45 357.65 312.87 357.70C314.28 357.75 315.69 357.79 317.11 357.84C318.53 357.89 319.94 357.94 321.36 358.00C322.77 358.05 324.18 358.10 325.60 358.15C327.01 358.21 328.43 358.26 329.84 358.31C331.26 358.36 332.67 358.42 334.09 358.47C335.50 358.52 336.92 358.57 338.33 358.61C339.75 358.66 341.16 358.71 342.58 358.75C344.00 358.79 345.41 358.83 346.82 358.87C348.24 358.90 349.65 358.94 351.07 358.97C352.49 359.00 353.90 359.02 355.31 359.04C356.73 359.06 358.14 359.08 359.56 359.09C360.98 359.10 362.39 359.10 363.81 359.10C365.22 359.10 366.63 359.09 368.05 359.08C369.47 359.06 370.88 359.04 372.30 359.01C373.71 358.99 375.12 358.95 376.54 358.90C377.95 358.86 379.37 358.81 380.78 358.75C382.20 358.68 383.61 358.61 385.03 358.53C386.44 358.45 387.86 358.36 389.27 358.26C390.69 358.16 392.10 358.05 393.52 357.93C394.94 357.81 396.35 357.68 397.76 357.53C399.18 357.39 400.59 357.23 402.01 357.06C403.43 356.90 404.84 356.72 406.25 356.52C407.67 356.33 409.79 356.00 410.50 355.90M283.15 357.30C283.86 357.31 285.98 357.34 287.39 357.35C288.81 357.37 290.22 357.38 291.64 357.40C293.06 357.41 294.47 357.43 295.88 357.44C297.30 357.45 298.71 357.47 300.13 357.48C301.55 357.50 302.96 357.51 304.38 357.53C305.79 357.55 307.20 357.57 308.62 357.60C310.04 357.62 311.45 357.65 312.87 357.68C314.28 357.71 315.69 357.74 317.11 357.78C318.53 357.83 319.94 357.87 321.36 357.92C322.77 357.97 324.18 358.03 325.60 358.10C327.01 358.16 328.43 358.23 329.84 358.31C331.26 358.39 332.67 358.48 334.09 358.57C335.50 358.67 336.92 358.78 338.33 358.89C339.75 359.01 341.16 359.13 342.58 359.27C344.00 359.40 345.41 359.55 346.82 359.71C348.24 359.87 349.65 360.04 351.07 360.22C352.49 360.40 353.90 360.60 355.31 360.81C356.73 361.01 358.14 361.24 359.56 361.47C360.98 361.71 362.39 361.96 363.81 362.23C365.22 362.50 366.63 362.78 368.05 363.07C369.47 363.37 370.88 363.67 372.30 363.99C373.71 364.31 375.12 364.64 376.54 364.97C377.95 365.31 379.37 365.66 380.78 366.02C382.20 366.37 383.61 366.74 385.03 367.11C386.44 367.48 387.86 367.86 389.27 368.24C390.69 368.62 392.10 369.01 393.52 369.40C394.94 369.79 396.35 370.18 397.76 370.57C399.18 370.96 400.59 371.35 402.01 371.73C403.43 372.11 404.84 372.48 406.25 372.84C407.67 373.21 409.79 373.72 410.50 373.90M283.15 388.90C283.86 388.91 285.98 388.94 287.39 388.96C288.81 388.98 290.22 389.01 291.64 389.03C293.06 389.06 294.47 389.09 295.88 389.13C297.30 389.16 298.71 389.20 300.13 389.24C301.55 389.28 302.96 389.32 304.38 389.37C305.79 389.41 307.20 389.46 308.62 389.52C310.04 389.57 311.45 389.63 312.87 389.69C314.28 389.75 315.69 389.81 317.11 389.88C318.53 389.94 319.94 390.01 321.36 390.09C322.77 390.16 324.18 390.24 325.60 390.32C327.01 390.40 328.43 390.49 329.84 390.57C331.26 390.66 332.67 390.76 334.09 390.84C335.50 390.92 336.92 391.01 338.33 391.07C339.75 391.14 341.16 391.20 342.58 391.24C344.00 391.27 345.41 391.30 346.82 391.29C348.24 391.28 349.65 391.25 351.07 391.18C352.49 391.11 353.90 391.01 355.31 390.87C356.73 390.73 358.14 390.55 359.56 390.33C360.98 390.10 362.39 389.82 363.81 389.50C365.22 389.18 366.63 388.81 368.05 388.41C369.47 388.01 370.88 387.56 372.30 387.11C373.71 386.65 375.12 386.15 376.54 385.65C377.95 385.15 379.37 384.63 380.78 384.10C382.20 383.58 383.61 383.05 385.03 382.52C386.44 382.00 387.86 381.46 389.27 380.96C390.69 380.45 392.10 379.94 393.52 379.48C394.94 379.02 396.35 378.58 397.76 378.20C399.18 377.83 400.59 377.49 402.01 377.23C403.43 376.98 404.84 376.78 406.25 376.69C407.67 376.61 409.79 376.70 410.50 376.70M283.15 417.80C283.86 417.76 285.98 417.71 287.39 417.55C288.81 417.38 290.22 417.13 291.64 416.82C293.06 416.51 294.47 416.11 295.88 415.67C297.30 415.22 298.71 414.70 300.13 414.14C301.55 413.58 302.96 412.95 304.38 412.29C305.79 411.62 307.20 410.91 308.62 410.16C310.04 409.41 311.45 408.62 312.87 407.81C314.28 407.00 315.69 406.15 317.11 405.29C318.53 404.42 319.94 403.53 321.36 402.64C322.77 401.74 324.18 400.83 325.60 399.92C327.01 399.01 328.43 398.09 329.84 397.18C331.26 396.27 332.67 395.35 334.09 394.46C335.50 393.57 336.92 392.68 338.33 391.82C339.75 390.96 341.16 390.12 342.58 389.31C344.00 388.51 345.41 387.72 346.82 386.98C348.24 386.24 349.65 385.53 351.07 384.88C352.49 384.22 353.90 383.62 355.31 383.05C356.73 382.48 358.14 381.97 359.56 381.48C360.98 380.98 362.39 380.53 363.81 380.08C365.22 379.63 366.63 379.20 368.05 378.77C369.47 378.33 370.88 377.88 372.30 377.45C373.71 377.02 375.12 376.57 376.54 376.16C377.95 375.76 379.37 375.36 380.78 375.02C382.20 374.69 383.61 374.38 385.03 374.16C386.44 373.94 387.86 373.77 389.27 373.70C390.69 373.62 392.10 373.66 393.52 373.71C394.94 373.76 396.35 373.90 397.76 374.01C399.18 374.13 400.59 374.30 402.01 374.38C403.43 374.46 404.84 374.55 406.25 374.47C407.67 374.39 409.79 374.00 410.50 373.90M283.15 466.97C283.86 466.40 285.98 464.73 287.39 463.59C288.81 462.44 290.22 461.28 291.64 460.11C293.06 458.94 294.47 457.76 295.88 456.56C297.30 455.36 298.71 454.15 300.13 452.94C301.55 451.72 302.96 450.50 304.38 449.27C305.79 448.03 307.20 446.79 308.62 445.55C310.04 444.31 311.45 443.06 312.87 441.81C314.28 440.57 315.69 439.31 317.11 438.06C318.53 436.81 319.94 435.56 321.36 434.32C322.77 433.07 324.18 431.82 325.60 430.58C327.01 429.34 328.43 428.11 329.84 426.88C331.26 425.65 332.67 424.43 334.09 423.22C335.50 422.01 336.92 420.81 338.33 419.63C339.75 418.45 341.16 417.27 342.58 416.12C344.00 414.97 345.41 413.84 346.82 412.73C348.24 411.62 349.65 410.53 351.07 409.47C352.49 408.41 353.90 407.37 355.31 406.36C356.73 405.36 358.14 404.38 359.56 403.43C360.98 402.49 362.39 401.59 363.81 400.69C365.22 399.80 366.63 398.95 368.05 398.06C369.47 397.18 370.88 396.29 372.30 395.39C373.71 394.48 375.12 393.55 376.54 392.63C377.95 391.71 379.37 390.78 380.78 389.88C382.20 388.97 383.61 388.07 385.03 387.21C386.44 386.36 387.86 385.53 389.27 384.76C390.69 383.99 392.10 383.27 393.52 382.61C394.94 381.94 396.35 381.33 397.76 380.75C399.18 380.18 400.59 379.66 402.01 379.17C403.43 378.68 404.84 378.24 406.25 377.83C407.67 377.42 409.79 376.89 410.50 376.70M283.15 446.40C283.86 446.43 285.98 446.61 287.39 446.59C288.81 446.58 290.22 446.48 291.64 446.29C293.06 446.11 294.47 445.85 295.88 445.51C297.30 445.17 298.71 444.75 300.13 444.26C301.55 443.76 302.96 443.18 304.38 442.54C305.79 441.90 307.20 441.16 308.62 440.39C310.04 439.62 311.45 438.77 312.87 437.90C314.28 437.04 315.69 436.11 317.11 435.19C318.53 434.26 319.94 433.30 321.36 432.36C322.77 431.41 324.18 430.45 325.60 429.51C327.01 428.56 328.43 427.62 329.84 426.70C331.26 425.78 332.67 424.86 334.09 423.98C335.50 423.10 336.92 422.24 338.33 421.42C339.75 420.60 341.16 419.81 342.58 419.06C344.00 418.32 345.41 417.61 346.82 416.97C348.24 416.32 349.65 415.72 351.07 415.19C352.49 414.65 353.90 414.18 355.31 413.77C356.73 413.37 358.14 413.03 359.56 412.74C360.98 412.45 362.39 412.23 363.81 412.05C365.22 411.87 366.63 411.76 368.05 411.68C369.47 411.60 370.88 411.57 372.30 411.58C373.71 411.59 375.12 411.65 376.54 411.73C377.95 411.82 379.37 411.94 380.78 412.09C382.20 412.24 383.61 412.43 385.03 412.63C386.44 412.83 387.86 413.07 389.27 413.31C390.69 413.56 392.10 413.83 393.52 414.11C394.94 414.38 396.35 414.68 397.76 414.97C399.18 415.27 400.59 415.58 402.01 415.89C403.43 416.19 404.84 416.50 406.25 416.81C407.67 417.11 409.79 417.55 410.50 417.70M283.15 466.97C283.86 466.58 285.98 465.41 287.39 464.66C288.81 463.91 290.22 463.18 291.64 462.47C293.06 461.76 294.47 461.06 295.88 460.38C297.30 459.71 298.71 459.04 300.13 458.39C301.55 457.74 302.96 457.11 304.38 456.48C305.79 455.86 307.20 455.25 308.62 454.64C310.04 454.04 311.45 453.44 312.87 452.86C314.28 452.27 315.69 451.69 317.11 451.11C318.53 450.54 319.94 449.97 321.36 449.41C322.77 448.84 324.18 448.29 325.60 447.73C327.01 447.18 328.43 446.63 329.84 446.08C331.26 445.54 332.67 445.00 334.09 444.45C335.50 443.91 336.92 443.38 338.33 442.84C339.75 442.30 341.16 441.77 342.58 441.23C344.00 440.70 345.41 440.16 346.82 439.63C348.24 439.09 349.65 438.56 351.07 438.03C352.49 437.49 353.90 436.96 355.31 436.43C356.73 435.90 358.14 435.37 359.56 434.84C360.98 434.31 362.39 433.78 363.81 433.26C365.22 432.74 366.63 432.21 368.05 431.70C369.47 431.18 370.88 430.66 372.30 430.15C373.71 429.64 375.12 429.13 376.54 428.63C377.95 428.13 379.37 427.63 380.78 427.13C382.20 426.64 383.61 426.15 385.03 425.67C386.44 425.18 387.86 424.71 389.27 424.23C390.69 423.76 392.10 423.30 393.52 422.84C394.94 422.38 396.35 421.93 397.76 421.48C399.18 421.04 400.59 420.60 402.01 420.17C403.43 419.74 404.84 419.32 406.25 418.91C407.67 418.50 409.79 417.90 410.50 417.70M283.15 462.00C283.86 462.07 285.98 462.37 287.39 462.42C288.81 462.48 290.22 462.42 291.64 462.33C293.06 462.23 294.47 462.04 295.88 461.84C297.30 461.64 298.71 461.37 300.13 461.11C301.55 460.84 302.96 460.55 304.38 460.26C305.79 459.97 307.20 459.66 308.62 459.37C310.04 459.07 311.45 458.77 312.87 458.48C314.28 458.20 315.69 457.91 317.11 457.65C318.53 457.39 319.94 457.14 321.36 456.91C322.77 456.69 324.18 456.49 325.60 456.31C327.01 456.13 328.43 455.98 329.84 455.83C331.26 455.68 332.67 455.55 334.09 455.42C335.50 455.28 336.92 455.16 338.33 455.01C339.75 454.87 341.16 454.72 342.58 454.56C344.00 454.41 345.41 454.24 346.82 454.08C348.24 453.92 349.65 453.76 351.07 453.63C352.49 453.49 353.90 453.36 355.31 453.25C356.73 453.14 358.14 453.04 359.56 452.96C360.98 452.88 362.39 452.82 363.81 452.77C365.22 452.72 366.63 452.69 368.05 452.67C369.47 452.65 370.88 452.65 372.30 452.66C373.71 452.67 375.12 452.70 376.54 452.75C377.95 452.79 379.37 452.86 380.78 452.93C382.20 453.01 383.61 453.11 385.03 453.22C386.44 453.33 387.86 453.46 389.27 453.60C390.69 453.75 392.10 453.91 393.52 454.09C394.94 454.27 396.35 454.47 397.76 454.68C399.18 454.90 400.59 455.13 402.01 455.38C403.43 455.63 404.84 455.90 406.25 456.19C407.67 456.47 409.79 456.95 410.50 457.10M283.15 477.20C284.43 477.01 288.65 476.69 290.84 476.05C293.02 475.41 294.45 474.52 296.25 473.34C298.06 472.17 300.23 470.27 301.67 469.01C303.12 467.74 303.84 466.75 304.92 465.76C306.00 464.76 306.91 463.86 308.17 463.05C309.44 462.24 310.88 461.51 312.51 460.88C314.13 460.25 316.12 459.53 317.92 459.26C319.73 458.98 321.54 459.08 323.34 459.26C325.15 459.44 327.31 459.89 328.76 460.34C330.20 460.79 331.11 461.33 332.01 461.96C332.91 462.60 333.27 463.23 334.18 464.13C335.08 465.03 336.46 466.58 337.43 467.38C338.40 468.19 339.03 468.26 340.00 468.97C340.97 469.69 341.80 470.87 343.25 471.68C344.69 472.49 346.50 473.21 348.66 473.84C350.83 474.47 354.07 475.20 356.24 475.47C358.40 475.74 359.85 475.56 361.65 475.47C363.46 475.38 365.26 475.20 367.06 474.93C368.87 474.65 370.67 474.20 372.48 473.84C374.28 473.48 376.08 473.12 377.89 472.76C379.69 472.40 381.86 472.13 383.30 471.68C384.75 471.23 385.65 470.87 386.55 470.05C387.45 469.24 387.99 467.80 388.71 466.81C389.44 465.81 389.98 464.91 390.88 464.10C391.78 463.29 392.68 462.75 394.13 461.94C395.57 461.12 397.74 459.90 399.54 459.23C401.34 458.56 403.13 458.28 404.95 457.93C406.78 457.57 409.58 457.24 410.50 457.10M283.15 466.97C283.86 466.85 285.98 466.42 287.39 466.29C288.81 466.17 290.22 466.16 291.64 466.21C293.06 466.26 294.47 466.41 295.88 466.60C297.30 466.79 298.71 467.06 300.13 467.36C301.55 467.66 302.96 468.02 304.38 468.39C305.79 468.77 307.20 469.18 308.62 469.59C310.04 469.99 311.45 470.42 312.87 470.84C314.28 471.25 315.69 471.66 317.11 472.06C318.53 472.46 319.94 472.85 321.36 473.23C322.77 473.61 324.18 473.98 325.60 474.35C327.01 474.71 328.43 475.06 329.84 475.41C331.26 475.75 332.67 476.08 334.09 476.41C335.50 476.73 336.92 477.04 338.33 477.35C339.75 477.65 341.16 477.94 342.58 478.22C344.00 478.50 345.41 478.78 346.82 479.04C348.24 479.29 349.65 479.54 351.07 479.78C352.49 480.02 353.90 480.25 355.31 480.46C356.73 480.68 358.14 480.88 359.56 481.08C360.98 481.27 362.39 481.46 363.81 481.63C365.22 481.80 366.63 481.97 368.05 482.12C369.47 482.27 370.88 482.42 372.30 482.55C373.71 482.68 375.12 482.81 376.54 482.92C377.95 483.04 379.37 483.14 380.78 483.24C382.20 483.33 383.61 483.42 385.03 483.50C386.44 483.58 387.86 483.64 389.27 483.70C390.69 483.77 392.10 483.82 393.52 483.86C394.94 483.90 396.35 483.94 397.76 483.97C399.18 483.99 400.59 484.01 402.01 484.02C403.43 484.03 404.84 484.04 406.25 484.03C407.67 484.03 409.79 484.01 410.50 484.00M283.15 462.00C283.86 462.00 285.98 461.86 287.39 461.99C288.81 462.13 290.22 462.44 291.64 462.80C293.06 463.16 294.47 463.65 295.88 464.14C297.30 464.63 298.71 465.21 300.13 465.74C301.55 466.27 302.96 466.82 304.38 467.33C305.79 467.85 307.20 468.34 308.62 468.81C310.04 469.28 311.45 469.73 312.87 470.15C314.28 470.58 315.69 470.99 317.11 471.37C318.53 471.75 319.94 472.11 321.36 472.44C322.77 472.78 324.18 473.09 325.60 473.38C327.01 473.67 328.43 473.93 329.84 474.19C331.26 474.44 332.67 474.67 334.09 474.90C335.50 475.12 336.92 475.33 338.33 475.54C339.75 475.75 341.16 475.95 342.58 476.15C344.00 476.35 345.41 476.55 346.82 476.75C348.24 476.96 349.65 477.17 351.07 477.39C352.49 477.60 353.90 477.83 355.31 478.06C356.73 478.30 358.14 478.54 359.56 478.78C360.98 479.02 362.39 479.27 363.81 479.52C365.22 479.76 366.63 480.01 368.05 480.26C369.47 480.50 370.88 480.75 372.30 480.98C373.71 481.22 375.12 481.45 376.54 481.68C377.95 481.90 379.37 482.12 380.78 482.32C382.20 482.52 383.61 482.72 385.03 482.90C386.44 483.08 387.86 483.24 389.27 483.39C390.69 483.54 392.10 483.67 393.52 483.79C394.94 483.90 396.35 483.99 397.76 484.06C399.18 484.13 400.59 484.18 402.01 484.20C403.43 484.22 404.84 484.22 406.25 484.18C407.67 484.15 409.79 484.03 410.50 484.00M410.50 263.10C411.21 263.09 413.33 263.06 414.74 263.06C416.15 263.06 417.57 263.08 418.98 263.12C420.39 263.15 421.81 263.20 423.22 263.27C424.63 263.33 426.05 263.41 427.46 263.50C428.87 263.59 430.29 263.69 431.70 263.81C433.11 263.92 434.53 264.05 435.94 264.19C437.35 264.32 438.77 264.47 440.18 264.63C441.59 264.79 443.01 264.96 444.42 265.13C445.83 265.31 447.25 265.49 448.66 265.68C450.07 265.87 451.49 266.07 452.90 266.28C454.31 266.48 455.73 266.69 457.14 266.91C458.55 267.12 459.97 267.34 461.38 267.57C462.79 267.79 464.21 268.02 465.62 268.25C467.03 268.48 468.45 268.72 469.86 268.95C471.27 269.19 472.69 269.43 474.10 269.66C475.51 269.90 476.93 270.14 478.34 270.38C479.75 270.61 481.17 270.85 482.58 271.09C483.99 271.32 485.41 271.56 486.82 271.79C488.23 272.02 489.65 272.25 491.06 272.47C492.47 272.69 493.89 272.91 495.30 273.13C496.71 273.34 498.13 273.55 499.54 273.75C500.95 273.96 502.37 274.15 503.78 274.34C505.19 274.53 506.61 274.72 508.02 274.89C509.43 275.06 510.85 275.23 512.26 275.38C513.67 275.54 515.09 275.68 516.50 275.82C517.91 275.95 519.33 276.08 520.74 276.19C522.15 276.30 523.57 276.41 524.98 276.49C526.39 276.58 527.81 276.66 529.22 276.72C530.63 276.78 532.05 276.82 533.46 276.85C534.87 276.88 536.99 276.89 537.70 276.90M410.50 323.20C411.21 323.12 413.33 322.88 414.74 322.71C416.15 322.55 417.57 322.39 418.98 322.23C420.39 322.07 421.81 321.91 423.22 321.75C424.63 321.59 426.05 321.44 427.46 321.28C428.87 321.12 430.29 320.97 431.70 320.81C433.11 320.65 434.53 320.50 435.94 320.35C437.35 320.19 438.77 320.04 440.18 319.89C441.59 319.74 443.01 319.59 444.42 319.44C445.83 319.30 447.25 319.15 448.66 319.01C450.07 318.86 451.49 318.72 452.90 318.58C454.31 318.43 455.73 318.29 457.14 318.16C458.55 318.02 459.97 317.88 461.38 317.75C462.79 317.61 464.21 317.48 465.62 317.35C467.03 317.22 468.45 317.09 469.86 316.97C471.27 316.84 472.69 316.72 474.10 316.60C475.51 316.48 476.93 316.36 478.34 316.24C479.75 316.13 481.17 316.01 482.58 315.90C483.99 315.79 485.41 315.68 486.82 315.58C488.23 315.47 489.65 315.37 491.06 315.27C492.47 315.17 493.89 315.07 495.30 314.98C496.71 314.88 498.13 314.79 499.54 314.70C500.95 314.62 502.37 314.53 503.78 314.45C505.19 314.37 506.61 314.29 508.02 314.22C509.43 314.14 510.85 314.07 512.26 314.00C513.67 313.93 515.09 313.87 516.50 313.81C517.91 313.75 519.33 313.69 520.74 313.64C522.15 313.59 523.57 313.54 524.98 313.49C526.39 313.45 527.81 313.41 529.22 313.37C530.63 313.33 532.05 313.30 533.46 313.27C534.87 313.24 536.99 313.21 537.70 313.20M410.50 323.20C411.21 323.30 413.33 323.61 414.74 323.82C416.15 324.03 417.57 324.24 418.98 324.44C420.39 324.65 421.81 324.86 423.22 325.07C424.63 325.28 426.05 325.49 427.46 325.70C428.87 325.91 430.29 326.12 431.70 326.32C433.11 326.53 434.53 326.74 435.94 326.95C437.35 327.15 438.77 327.36 440.18 327.56C441.59 327.76 443.01 327.97 444.42 328.17C445.83 328.37 447.25 328.57 448.66 328.76C450.07 328.96 451.49 329.15 452.90 329.34C454.31 329.54 455.73 329.72 457.14 329.91C458.55 330.10 459.97 330.28 461.38 330.46C462.79 330.64 464.21 330.82 465.62 330.99C467.03 331.16 468.45 331.33 469.86 331.50C471.27 331.66 472.69 331.82 474.10 331.98C475.51 332.13 476.93 332.29 478.34 332.43C479.75 332.58 481.17 332.72 482.58 332.86C483.99 333.00 485.41 333.13 486.82 333.26C488.23 333.39 489.65 333.51 491.06 333.62C492.47 333.74 493.89 333.85 495.30 333.95C496.71 334.05 498.13 334.15 499.54 334.24C500.95 334.33 502.37 334.42 503.78 334.49C505.19 334.57 506.61 334.64 508.02 334.70C509.43 334.76 510.85 334.82 512.26 334.87C513.67 334.91 515.09 334.95 516.50 334.98C517.91 335.02 519.33 335.04 520.74 335.05C522.15 335.07 523.57 335.07 524.98 335.07C526.39 335.07 527.81 335.06 529.22 335.04C530.63 335.02 532.05 334.99 533.46 334.95C534.87 334.91 536.99 334.82 537.70 334.80M410.50 355.90C411.21 355.88 413.33 355.84 414.74 355.80C416.15 355.76 417.57 355.71 418.98 355.66C420.39 355.61 421.81 355.56 423.22 355.51C424.63 355.46 426.05 355.40 427.46 355.35C428.87 355.29 430.29 355.24 431.70 355.19C433.11 355.13 434.53 355.08 435.94 355.04C437.35 354.99 438.77 354.95 440.18 354.91C441.59 354.88 443.01 354.84 444.42 354.82C445.83 354.80 447.25 354.78 448.66 354.77C450.07 354.76 451.49 354.76 452.90 354.78C454.31 354.79 455.73 354.81 457.14 354.85C458.55 354.89 459.97 354.93 461.38 355.00C462.79 355.06 464.21 355.14 465.62 355.23C467.03 355.32 468.45 355.43 469.86 355.56C471.27 355.69 472.69 355.83 474.10 355.99C475.51 356.15 476.93 356.33 478.34 356.52C479.75 356.71 481.17 356.92 482.58 357.14C483.99 357.35 485.41 357.59 486.82 357.82C488.23 358.06 489.65 358.31 491.06 358.57C492.47 358.83 493.89 359.10 495.30 359.37C496.71 359.64 498.13 359.92 499.54 360.20C500.95 360.48 502.37 360.77 503.78 361.05C505.19 361.34 506.61 361.63 508.02 361.92C509.43 362.21 510.85 362.50 512.26 362.78C513.67 363.07 515.09 363.36 516.50 363.64C517.91 363.92 519.33 364.20 520.74 364.47C522.15 364.74 523.57 365.00 524.98 365.26C526.39 365.52 527.81 365.77 529.22 366.01C530.63 366.24 532.05 366.47 533.46 366.69C534.87 366.91 536.99 367.20 537.70 367.30M410.50 373.90C411.21 373.86 413.33 373.75 414.74 373.68C416.15 373.62 417.57 373.57 418.98 373.52C420.39 373.47 421.81 373.44 423.22 373.40C424.63 373.37 426.05 373.35 427.46 373.33C428.87 373.32 430.29 373.31 431.70 373.30C433.11 373.30 434.53 373.30 435.94 373.31C437.35 373.32 438.77 373.34 440.18 373.36C441.59 373.38 443.01 373.40 444.42 373.44C445.83 373.47 447.25 373.50 448.66 373.54C450.07 373.58 451.49 373.63 452.90 373.67C454.31 373.72 455.73 373.77 457.14 373.83C458.55 373.88 459.97 373.94 461.38 374.00C462.79 374.06 464.21 374.13 465.62 374.19C467.03 374.26 468.45 374.33 469.86 374.40C471.27 374.47 472.69 374.54 474.10 374.61C475.51 374.69 476.93 374.76 478.34 374.84C479.75 374.91 481.17 374.99 482.58 375.06C483.99 375.14 485.41 375.21 486.82 375.29C488.23 375.36 489.65 375.44 491.06 375.51C492.47 375.58 493.89 375.65 495.30 375.72C496.71 375.78 498.13 375.85 499.54 375.90C500.95 375.96 502.37 376.01 503.78 376.05C505.19 376.09 506.61 376.13 508.02 376.15C509.43 376.17 510.85 376.19 512.26 376.19C513.67 376.19 515.09 376.19 516.50 376.17C517.91 376.14 519.33 376.11 520.74 376.06C522.15 376.01 523.57 375.95 524.98 375.88C526.39 375.81 527.81 375.72 529.22 375.63C530.63 375.54 532.05 375.44 533.46 375.33C534.87 375.23 536.99 375.06 537.70 375.00M410.50 376.70C411.21 376.72 413.33 376.77 414.74 376.83C416.15 376.89 417.57 376.97 418.98 377.06C420.39 377.15 421.81 377.25 423.22 377.37C424.63 377.48 426.05 377.61 427.46 377.75C428.87 377.89 430.29 378.03 431.70 378.19C433.11 378.34 434.53 378.50 435.94 378.67C437.35 378.83 438.77 379.00 440.18 379.17C441.59 379.34 443.01 379.52 444.42 379.69C445.83 379.87 447.25 380.04 448.66 380.21C450.07 380.39 451.49 380.56 452.90 380.72C454.31 380.89 455.73 381.05 457.14 381.20C458.55 381.35 459.97 381.50 461.38 381.64C462.79 381.77 464.21 381.90 465.62 382.02C467.03 382.14 468.45 382.24 469.86 382.33C471.27 382.42 472.69 382.50 474.10 382.56C475.51 382.62 476.93 382.66 478.34 382.69C479.75 382.71 481.17 382.72 482.58 382.71C483.99 382.69 485.41 382.66 486.82 382.60C488.23 382.54 489.65 382.46 491.06 382.36C492.47 382.27 493.89 382.15 495.30 382.02C496.71 381.89 498.13 381.74 499.54 381.59C500.95 381.44 502.37 381.28 503.78 381.11C505.19 380.95 506.61 380.78 508.02 380.61C509.43 380.44 510.85 380.27 512.26 380.10C513.67 379.94 515.09 379.78 516.50 379.63C517.91 379.48 519.33 379.33 520.74 379.20C522.15 379.08 523.57 378.96 524.98 378.86C526.39 378.77 527.81 378.68 529.22 378.63C530.63 378.57 532.05 378.54 533.46 378.53C534.87 378.53 536.99 378.59 537.70 378.60M410.50 417.70C411.21 417.71 413.33 417.75 414.74 417.75C416.15 417.76 417.57 417.75 418.98 417.72C420.39 417.70 421.81 417.66 423.22 417.62C424.63 417.57 426.05 417.50 427.46 417.43C428.87 417.35 430.29 417.27 431.70 417.17C433.11 417.07 434.53 416.95 435.94 416.83C437.35 416.71 438.77 416.57 440.18 416.42C441.59 416.28 443.01 416.12 444.42 415.95C445.83 415.78 447.25 415.60 448.66 415.41C450.07 415.22 451.49 415.02 452.90 414.80C454.31 414.59 455.73 414.37 457.14 414.14C458.55 413.91 459.97 413.66 461.38 413.41C462.79 413.16 464.21 412.90 465.62 412.63C467.03 412.36 468.45 412.08 469.86 411.79C471.27 411.51 472.69 411.21 474.10 410.91C475.51 410.60 476.93 410.29 478.34 409.97C479.75 409.65 481.17 409.33 482.58 409.00C483.99 408.68 485.41 408.35 486.82 408.02C488.23 407.69 489.65 407.36 491.06 407.03C492.47 406.70 493.89 406.37 495.30 406.05C496.71 405.73 498.13 405.41 499.54 405.10C500.95 404.79 502.37 404.49 503.78 404.20C505.19 403.90 506.61 403.62 508.02 403.35C509.43 403.08 510.85 402.81 512.26 402.57C513.67 402.33 515.09 402.10 516.50 401.88C517.91 401.67 519.33 401.47 520.74 401.30C522.15 401.12 523.57 400.97 524.98 400.83C526.39 400.70 527.81 400.59 529.22 400.50C530.63 400.42 532.05 400.35 533.46 400.32C534.87 400.29 536.99 400.30 537.70 400.30M410.50 457.10C411.84 457.08 415.69 457.11 418.54 456.97C421.38 456.83 424.86 456.55 427.56 456.25C430.27 455.94 432.83 455.49 434.78 455.16C436.74 454.83 437.94 454.71 439.30 454.26C440.65 453.81 441.70 453.18 442.91 452.45C444.11 451.73 445.31 450.77 446.52 449.93C447.72 449.09 448.77 448.33 450.13 447.40C451.48 446.47 453.13 445.29 454.64 444.33C456.14 443.37 457.42 442.70 459.15 441.62C460.88 440.55 462.62 439.13 465.03 437.88C467.44 436.63 470.75 435.11 473.61 434.11C476.47 433.11 479.33 432.48 482.19 431.88C485.05 431.28 486.48 430.93 490.76 430.51C495.05 430.08 502.20 429.56 507.92 429.31C513.63 429.05 520.10 429.01 525.07 428.96C530.03 428.91 535.59 428.99 537.70 429.00M410.50 484.00C411.09 484.01 412.69 484.19 414.03 484.04C415.36 483.90 417.03 483.53 418.54 483.14C420.04 482.75 421.55 482.34 423.05 481.70C424.55 481.05 426.21 480.12 427.56 479.26C428.92 478.40 430.12 477.53 431.17 476.55C432.23 475.57 433.13 474.37 433.88 473.39C434.63 472.42 435.23 471.74 435.69 470.69C436.14 469.63 436.29 468.28 436.59 467.08C436.89 465.87 437.19 464.59 437.49 463.47C437.79 462.34 438.09 461.13 438.39 460.31C438.69 459.48 438.84 459.03 439.30 458.50C439.75 457.98 440.20 457.67 441.10 457.15C442.00 456.62 443.21 455.87 444.71 455.34C446.22 454.82 448.47 454.37 450.13 453.99C451.78 453.61 453.13 453.34 454.64 453.09C456.14 452.83 455.99 452.99 459.15 452.45C462.31 451.92 468.34 450.89 473.61 449.89C478.88 448.89 485.05 447.46 490.76 446.46C496.48 445.46 502.20 444.60 507.92 443.89C513.63 443.17 520.10 442.48 525.07 442.17C530.03 441.86 535.59 442.03 537.70 442.00" stroke="#ff0000" stroke-width="1.8" fill="none" stroke-linecap="butt" stroke-linejoin="round"/>
<!-- DOS -->
<path d="M600.77 52.30L600.78 248.45L613.79 248.45L614.23 249.46L615.24 256.69L616.69 262.47L618.85 267.53L621.75 270.42L625.36 272.30L631.14 273.75L638.37 274.61L645.60 275.05L652.83 275.34L661.79 275.48L652.83 275.77L638.37 276.06L623.91 276.35L616.69 276.64L612.35 277.65L609.46 279.82L606.57 283.43L603.67 287.77L600.78 291.82L600.78 292.39L609.46 292.39L610.90 293.55L613.79 297.17L616.69 301.50L618.67 305.00L621.69 308.01L625.30 311.02L628.92 312.23L634.34 312.83L628.92 313.19L625.90 314.04L623.49 315.84L622.29 317.65L622.89 318.86L625.90 319.22L629.52 319.46L631.33 320.42L632.53 321.27L634.94 321.27L634.94 321.87L628.92 322.47L625.90 323.07L628.92 323.31L634.94 323.07L635.54 324.88L632.53 325.72L631.33 326.08L633.13 326.69L637.35 326.69L640.96 327.89L644.58 328.86L666.87 329.34L644.58 329.70L639.76 330.30L634.94 331.75L639.76 331.75L648.19 332.11L653.01 332.71L655.42 333.67L692.17 334.28L655.42 334.52L610.24 334.52L610.24 337.53L610.84 340.54L612.05 342.95L614.46 344.52L636.14 345.00L667.47 345.36L639.76 346.20L636.14 347.17L632.53 348.37L623.91 349.44L619.58 350.60L618.13 352.33L620.30 354.65L626.81 355.80L652.83 356.24L798.00 356.70L652.83 358.12L628.25 358.55L623.91 360.00L620.30 362.89L618.13 365.78L616.87 366.81L618.07 369.82L621.69 371.99L627.71 373.19L648.19 373.67L732.50 373.80L700.00 374.16L666.27 374.64L648.19 375.24L666.87 376.08L636.14 376.45L621.08 377.29L625.30 378.01L627.71 380.06L632.53 381.63L648.19 382.23L668.67 382.47L648.19 382.83L636.14 383.07L630.12 384.04L625.90 385.48L623.49 387.29L624.10 388.25L630.12 388.49L637.35 388.25L639.16 389.10L642.17 390.06L665.66 390.54L642.17 390.90L633.73 391.51L633.73 392.95L625.90 392.95L621.69 394.52L612.05 397.53L607.47 398.98L612.05 399.70L644.58 400.18L624.10 400.78L619.88 401.75L617.47 404.04L618.07 406.45L621.08 408.49L626.51 410.06L636.14 410.66L671.69 411.02L642.17 411.63L633.73 412.23L627.71 413.67L621.69 416.69L617.47 420.30L614.46 423.31L613.25 425.12L624.10 425.36L638.55 425.48L631.33 426.08L634.94 426.93L639.76 427.77L634.94 428.13L630.12 428.98L626.51 430.54L623.49 433.55L621.69 436.57L620.48 438.49L620.24 440.90L630.12 440.90L638.55 441.27L639.16 443.31L636.14 444.52L637.95 445.12L634.94 446.08L634.94 448.13L637.35 449.94L642.17 451.14L648.19 451.75L661.69 452.11L648.19 452.59L644.58 453.31L640.96 455.36L639.16 456.57L648.19 457.41L665.06 458.01L648.19 458.61L630.12 459.34L619.10 460.66L613.07 461.87L609.46 463.67L608.01 466.45L609.46 469.10L613.07 472.11L616.08 473.67L620.30 474.52L617.29 475.36L615.48 476.57L617.89 477.77L616.08 479.34L613.67 480.54L613.07 481.75L614.88 482.35L614.28 483.31L600.66 483.80L600.77 487.05" stroke="#ff0000" stroke-width="1.2" fill="none" stroke-linejoin="round"/>
<!-- vertical lines -->
<path d="M283.15 52.3V487.7M410.5 52.3V487.7" stroke="#000" stroke-width="1.1" fill="none"/>
<!-- ticks -->
<path d="M102.65 466.97h6M537.70 466.97h-6M600.65 466.35h6M817.70 466.35h-6M102.65 415.13h6M537.70 415.13h-6M600.65 414.59h6M817.70 414.59h-6M102.65 363.30h6M537.70 363.30h-6M600.65 362.84h6M817.70 362.84h-6M102.65 311.47h6M537.70 311.47h-6M600.65 311.08h6M817.70 311.08h-6M102.65 259.63h6M537.70 259.63h-6M600.65 259.32h6M817.70 259.32h-6M102.65 207.80h6M537.70 207.80h-6M600.65 207.57h6M817.70 207.57h-6M102.65 155.97h6M537.70 155.97h-6M600.65 155.81h6M817.70 155.81h-6M102.65 104.13h6M537.70 104.13h-6M600.65 104.06h6M817.70 104.06h-6M102.65 52.30h6M537.70 52.30h-6M600.65 52.30h6M817.70 52.30h-6" stroke="#000" stroke-width="0.85" fill="none"/>
<path d="M630.63 487.05v-6M630.63 52.30v6M660.61 487.05v-6M660.61 52.30v6M690.59 487.05v-6M690.59 52.30v6M720.56 487.05v-6M720.56 52.30v6M750.54 487.05v-6M750.54 52.30v6M780.52 487.05v-6M780.52 52.30v6M810.50 487.05v-6M810.50 52.30v6" stroke="#000" stroke-width="0.62" fill="none"/>
<!-- frames -->
<rect x="102.65" y="52.3" width="435.05" height="435.40" stroke="#000" stroke-width="1.35" fill="none"/>
<rect x="600.65" y="52.3" width="217.05" height="434.75" stroke="#000" stroke-width="1.35" fill="none"/>
<!-- titles -->
<g font-size="28px">
<text x="124.6" y="35.4" letter-spacing="0.45">Band</text>
<text x="611.2" y="35.4" letter-spacing="0.8">DOS</text>
</g>
<g font-size="19.5px">
<text x="91.8" y="473.57" text-anchor="end">0</text><text x="589.8" y="472.95" text-anchor="end">0</text><text x="91.8" y="421.73" text-anchor="end">50</text><text x="589.8" y="421.19" text-anchor="end">50</text><text x="91.8" y="369.90" text-anchor="end">100</text><text x="589.8" y="369.44" text-anchor="end">100</text><text x="91.8" y="318.07" text-anchor="end">150</text><text x="589.8" y="317.68" text-anchor="end">150</text><text x="91.8" y="266.23" text-anchor="end">200</text><text x="589.8" y="265.92" text-anchor="end">200</text><text x="91.8" y="214.40" text-anchor="end">250</text><text x="589.8" y="214.17" text-anchor="end">250</text><text x="91.8" y="162.57" text-anchor="end">300</text><text x="589.8" y="162.41" text-anchor="end">300</text><text x="91.8" y="110.73" text-anchor="end">350</text><text x="589.8" y="110.66" text-anchor="end">350</text><text x="91.8" y="58.90" text-anchor="end">400</text><text x="589.8" y="58.90" text-anchor="end">400</text>
<text x="102.9" y="513.5" text-anchor="middle">M</text>
<text transform="translate(283.3 513.7) scale(1.12 1.04)" text-anchor="middle">&#915;</text>
<text x="410.3" y="513.5" text-anchor="middle">X</text>
<text x="537.9" y="513.5" text-anchor="middle">M</text>
<text transform="translate(35.4 269.9) rotate(-90)" text-anchor="middle">Frequency (cm<tspan font-size="14.5px" dy="-10.5">&#8722;1</tspan><tspan dy="10.5">)</tspan></text>
<text x="660.3" y="544">DOS (cm<tspan font-size="14.5px" dy="-10.5" dx="0.3">&#8722;1</tspan><tspan dy="10.5" dx="0.8">)</tspan></text>
</g>
<g font-size="14.5px">
<text x="601.95" y="511.2" text-anchor="middle">0</text><text x="631.93" y="511.2" text-anchor="middle">0.1</text><text x="661.91" y="511.2" text-anchor="middle">0.2</text><text x="691.89" y="511.2" text-anchor="middle">0.3</text><text x="721.86" y="511.2" text-anchor="middle">0.4</text><text x="751.84" y="511.2" text-anchor="middle">0.5</text><text x="781.82" y="511.2" text-anchor="middle">0.6</text><text x="811.80" y="511.2" text-anchor="middle">0.7</text>
</g>
</svg>
</body></html>
